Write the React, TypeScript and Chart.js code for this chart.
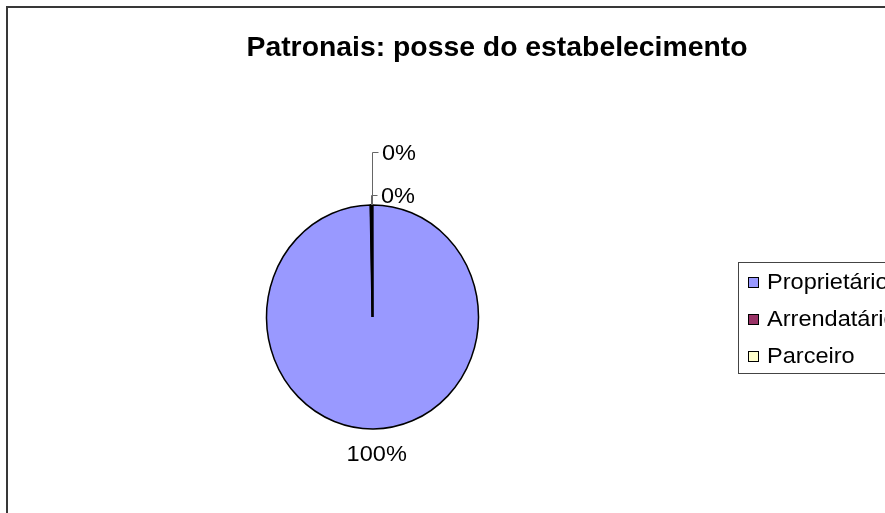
import React, { useEffect, useRef } from "react";
import { Chart, registerables } from "chart.js";

Chart.register(...registerables);

const TITLE = "Patronais: posse do estabelecimento";
const categories = ["Proprietário", "Arrendatário", "Parceiro"];
const values = [99.7, 0.2, 0.1];
const colors = ["#9999FF", "#993366", "#FFFFCC"];

const FONT = '"Liberation Sans", Arial, sans-serif';
const ELLIPSE_X = 106.5 / 112.5;

function drawText(
  ctx: CanvasRenderingContext2D,
  text: string,
  x: number,
  y: number,
  font: string,
  align: CanvasTextAlign,
  sx: number
) {
  ctx.save();
  ctx.font = font;
  ctx.textBaseline = "alphabetic";
  ctx.textAlign = align;
  ctx.fillStyle = "#000";
  ctx.translate(x, y);
  ctx.scale(sx, 1);
  ctx.fillText(text, 0, 0);
  ctx.restore();
}

const overlay = {
  id: "excelOverlay",
  beforeDraw(chart: any) {
    const ctx: CanvasRenderingContext2D = chart.ctx;
    ctx.save();
    ctx.fillStyle = "#fff";
    ctx.fillRect(0, 0, chart.width, chart.height);
    ctx.strokeStyle = "#383838";
    ctx.lineWidth = 2;
    ctx.strokeRect(7, 7, 2000, 2000);
    ctx.restore();
    drawText(ctx, TITLE, 497, 56, `bold 27px ${FONT}`, "center", 1.05);
  },
  beforeDatasetsDraw(chart: any) {
    const ctx: CanvasRenderingContext2D = chart.ctx;
    const a = chart.getDatasetMeta(0).data[0];
    ctx.save();
    ctx.translate(a.x, a.y);
    ctx.scale(ELLIPSE_X, 1);
    ctx.translate(-a.x, -a.y);
  },
  afterDatasetsDraw(chart: any) {
    const ctx: CanvasRenderingContext2D = chart.ctx;
    ctx.restore();
    const meta = chart.getDatasetMeta(0);
    const data: number[] = chart.data.datasets[0].data;
    const total = data.reduce((s, v) => s + v, 0);
    let k = 0;
    meta.data.forEach((arc: any, i: number) => {
      const { x, y, startAngle, endAngle, outerRadius } = arc.getProps(
        ["x", "y", "startAngle", "endAngle", "outerRadius"],
        true
      );
      const mid = (startAngle + endAngle) / 2;
      const pct = Math.round((data[i] / total) * 100);
      const label = pct + "%";
      const font = `22px ${FONT}`;
      if (pct >= 1) {
        const r = outerRadius + 24;
        const lx = x + Math.cos(mid) * r * ELLIPSE_X + 3;
        const ly = y + Math.sin(mid) * r;
        drawText(ctx, label, lx, ly + 8, font, "center", 1.07);
      } else {
        const px = x + Math.cos(mid) * outerRadius * ELLIPSE_X;
        const py = y + Math.sin(mid) * outerRadius;
        const ly = py - 10 - k * 43;
        ctx.save();
        ctx.strokeStyle = "#666";
        ctx.lineWidth = 1;
        ctx.beginPath();
        ctx.moveTo(Math.round(px) + 0.5, py);
        ctx.lineTo(Math.round(px) + 0.5, Math.round(ly) + 0.5);
        ctx.lineTo(Math.round(px) + 6.5, Math.round(ly) + 0.5);
        ctx.stroke();
        ctx.restore();
        drawText(ctx, label, Math.round(px) + 10, ly + 7.5, font, "left", 1.07);
        k++;
      }
    });

    // legend
    ctx.save();
    ctx.strokeStyle = "#444";
    ctx.lineWidth = 1;
    ctx.strokeRect(738.5, 262.5, 400, 111);
    const labels: string[] = chart.data.labels;
    const bg: string[] = chart.data.datasets[0].backgroundColor;
    labels.forEach((lab, i) => {
      const base = 289 + i * 37;
      ctx.fillStyle = bg[i];
      ctx.fillRect(748, base - 12, 11, 11);
      ctx.strokeStyle = "#000";
      ctx.strokeRect(748.5, base - 11.5, 10, 10);
      drawText(ctx, lab, 767, base, `22px ${FONT}`, "left", 1.07);
    });
    ctx.restore();
  },
};

export default function App() {
  const ref = useRef<HTMLCanvasElement | null>(null);
  useEffect(() => {
    document.body.style.margin = "0";
    const canvas = ref.current;
    if (!canvas) return;
    const chart = new Chart(canvas, {
      type: "pie",
      data: {
        labels: categories,
        datasets: [
          {
            data: values,
            backgroundColor: colors,
            borderColor: "#000",
            borderWidth: [1.6, 2.2, 2.2],
          },
        ],
      },
      options: {
        animation: false,
        responsive: false,
        events: [],
        radius: 112,
        layout: { padding: { left: 260, right: 400, top: 205, bottom: 84 } },
        plugins: {
          legend: { display: false },
          title: { display: false },
          tooltip: { enabled: false },
        },
      } as any,
      plugins: [overlay],
    });
    return () => chart.destroy();
  }, []);
  return (
    <div style={{ position: "absolute", left: 0, top: 0, width: 885, height: 513 }}>
      <canvas ref={ref} width={885} height={513} style={{ width: 885, height: 513, display: "block" }} />
    </div>
  );
}
